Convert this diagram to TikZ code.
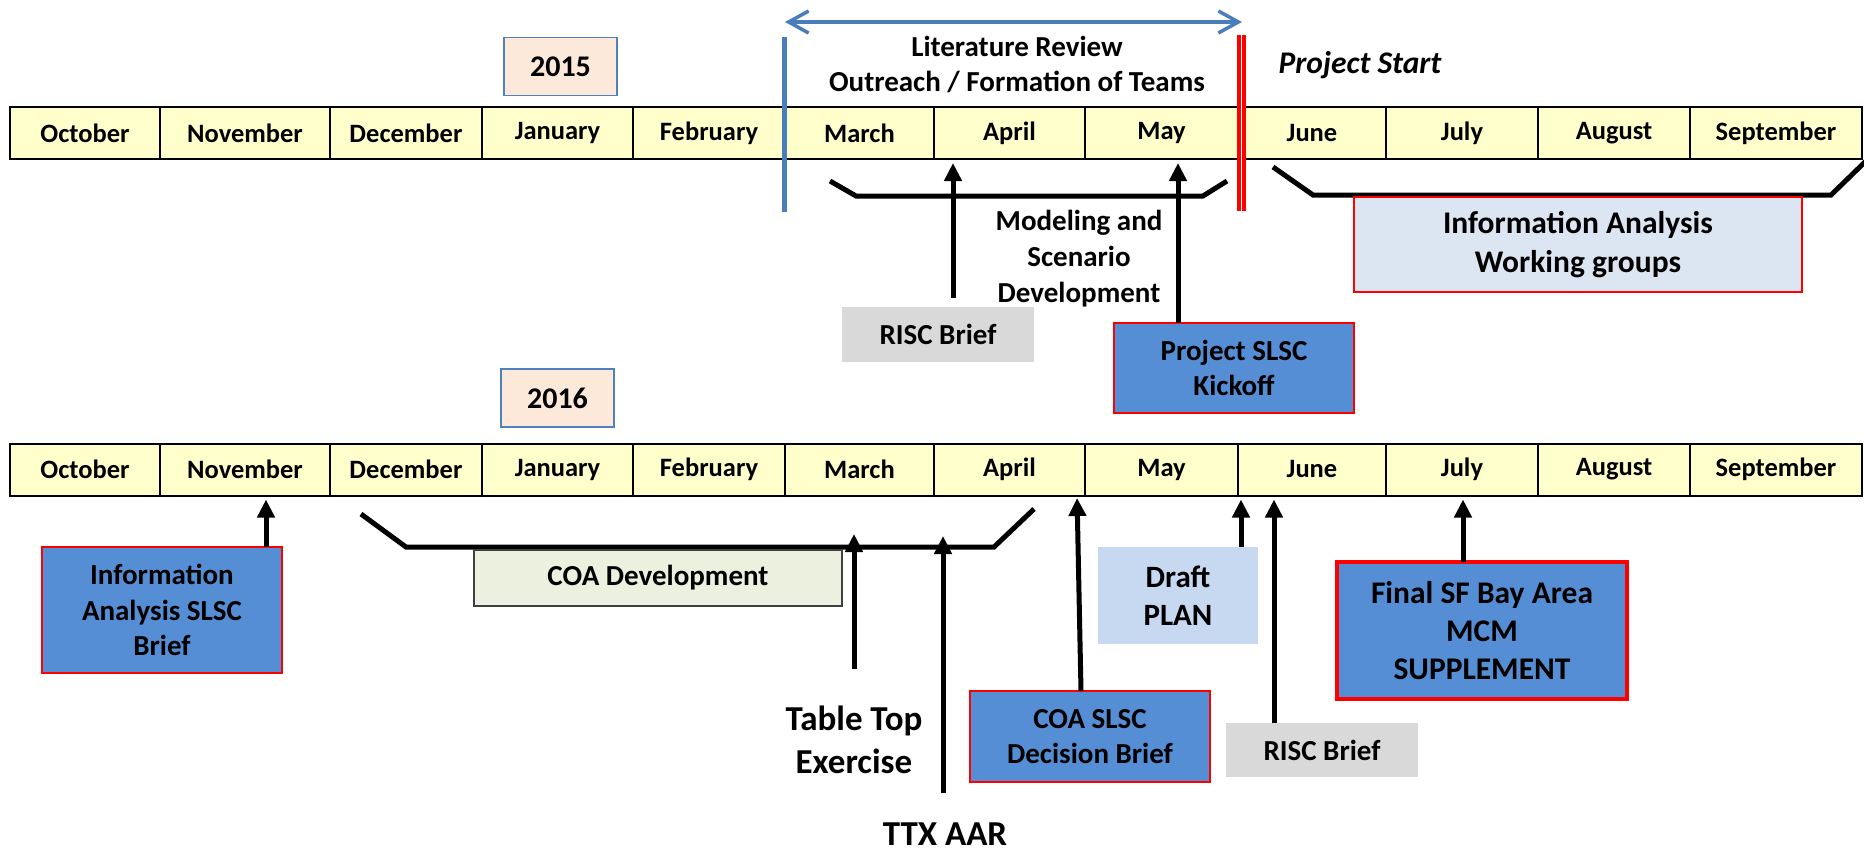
\documentclass[tikz,border=0pt]{standalone}
\usepackage{fontspec}
\setmainfont{Carlito}
\usetikzlibrary{arrows.meta}
\definecolor{monyel}{HTML}{FFFFCC}
\definecolor{yrpeach}{HTML}{FDE9D9}
\definecolor{yrblue}{HTML}{4F81BD}
\definecolor{slscblue}{HTML}{558ED5}
\definecolor{riscgray}{HTML}{D9D9D9}
\definecolor{draftblue}{HTML}{C6D9F1}
\definecolor{wgblue}{HTML}{DCE6F2}
\definecolor{coagreen}{HTML}{EBF1DE}
\definecolor{spanblue}{HTML}{4A7EBB}
\newcommand{\fsz}[1]{\fontsize{#1}{1.22\dimexpr#1pt\relax}\selectfont\bfseries}
\tikzset{
  mon/.style={draw=black, line width=2pt, fill=monyel, inner sep=0pt,
    minimum height=52pt, font=\fsz{26.5}},
  yrb/.style={draw=yrblue, line width=1.5pt, fill=yrpeach, inner sep=0pt,
    minimum width=113pt, minimum height=58pt, font=\fsz{30}},
  slsc/.style={draw=red, line width=2.5pt, fill=slscblue, align=center,
    inner sep=0pt, font=\fsz{29}},
  riscb/.style={fill=riscgray, inner sep=0pt, minimum width=192pt,
    minimum height=55pt, font=\fsz{29}},
  lbl/.style={align=center, inner sep=0pt, font=\fsz{29}},
  flow/.style={-{Triangle[width=17pt,length=18pt]}, line width=5pt,
    shorten >=3pt},
  brk/.style={line width=5pt},
}

\begin{document}
\begin{tikzpicture}[x=1pt, y=-1pt]
  \useasboundingbox (0,0) rectangle (1864,851);

  % the two month strips
  \foreach \mname/\xa/\xb [count=\i] in {October/10/160, November/160/330,
      December/330/482, January/482/633, February/633/785, March/785/934,
      April/934/1085, May/1085/1238, June/1238/1386, July/1386/1538,
      August/1538/1690, September/1690/1862}{
    \node[mon, minimum width={\xb-\xa}] (t\i) at ({(\xa+\xb)/2},133) {\mname};
    \node[mon, minimum width={\xb-\xa}] (b\i) at ({(\xa+\xb)/2},469.5) {\mname};
  }
  \node[yrb] (y15) at (560.5,66.5) {2015};
  \node[yrb] (y16) at (557.5,398) {2016};

  % 2015
  \node[lbl, font=\fsz{29}] (lit) at (1017,64.5)
    {Literature Review\\Outreach / Formation of Teams};
  \coordinate (lita) at (785,22);
  \coordinate (litb) at (1242,22);
  \draw[spanblue, line width=3.5pt,
    {Straight Barb[length=20pt,width=22pt]}-{Straight Barb[length=20pt,width=22pt]}]
    (lita) -- (litb);
  \draw[spanblue, line width=5pt] (784,37) -- (784,212);
  \draw[red, line width=3.75pt, double=white, double distance=1.5pt]
    (1241.5,35) -- (1241.5,211);
  \node[lbl, font=\fsz{31.5}\itshape] (pst) at (1360,65) {Project Start};

  \draw[brk] (830,181) -- (856,196) -- (1203,196) -- (1227,181);
  \draw[brk] (1273,167) -- (1313,195) -- (1831,195) -- (1866,161);
  \node[lbl, font={\fontsize{29}{36}\selectfont\bfseries}] (model) at (1079,259)
    {Modeling and\\Scenario\\Development};
  \node[draw=red, line width=2pt, fill=wgblue, minimum width=448pt,
    minimum height=95pt, align=center, font=\fsz{31.5}] (wg) at (1578,244.5)
    {Information Analysis\\Working groups};
  \node[riscb] (risc1) at (938,334.5) {RISC Brief};
  \node[slsc, minimum width=240pt, minimum height=90pt] (kick) at (1234,368)
    {Project SLSC\\Kickoff};

  \coordinate (f1) at (953,298);
  \coordinate (f2) at (1178,323);
  \draw[flow] (f1) -- (f1 |- t8.south);
  \draw[flow] (f2) -- (f2 |- t9.south);

  % 2016
  \draw[brk] (361,514) -- (406,547) -- (994,547) -- (1034,509);
  \node[draw=black!75, line width=2pt, fill=coagreen, minimum width=368pt,
    minimum height=56pt, font=\fsz{29}] (coadev) at (658,578) {COA Development};
  \node[slsc, minimum width=240pt, minimum height=126pt] (slscia) at (162,610)
    {Information\\Analysis SLSC\\Brief};
  \node[slsc, minimum width=240pt, minimum height=91pt] (coadec) at (1090,736.5)
    {COA SLSC\\Decision Brief};
  \node[fill=draftblue, inner sep=0pt, minimum width=160pt, minimum height=97pt,
    align=center, font=\fsz{31}] (draft) at (1178,595.5) {Draft\\PLAN};
  \node[riscb, minimum height=54pt] (risc2) at (1322,750) {RISC Brief};
  \node[slsc, line width=4.5pt, minimum width=290pt, minimum height=137pt,
    font=\fsz{31.5}] (final) at (1482,630.5)
    {Final SF Bay Area\\MCM\\SUPPLEMENT};
  \node[lbl, font=\fsz{35}] (ttex) at (854,740) {Table Top\\Exercise};
  \node[lbl, font=\fsz{35}] (ttx) at (945,834) {TTX AAR};

  \coordinate (f3) at (266,547);
  \coordinate (f4) at (854,669);
  \coordinate (h4) at (854,531);
  \coordinate (f5) at (943,793);
  \coordinate (h5) at (943,533);
  \coordinate (f6) at (1081,691);
  \coordinate (h6) at (1077,495);
  \coordinate (f7) at (1241,547);
  \coordinate (f8) at (1274,723);
  \coordinate (f9) at (1463,562);
  \draw[flow] (f3) -- (f3 |- b2.south);
  \draw[flow] (f4) -- (h4);
  \draw[flow] (f5) -- (h5);
  \draw[flow] (f6) -- (h6);
  \draw[flow] (f7) -- (f7 |- b10.south);
  \draw[flow] (f8) -- (f8 |- b10.south);
  \draw[flow] (f9) -- (f9 |- b11.south);
\end{tikzpicture}
\end{document}
